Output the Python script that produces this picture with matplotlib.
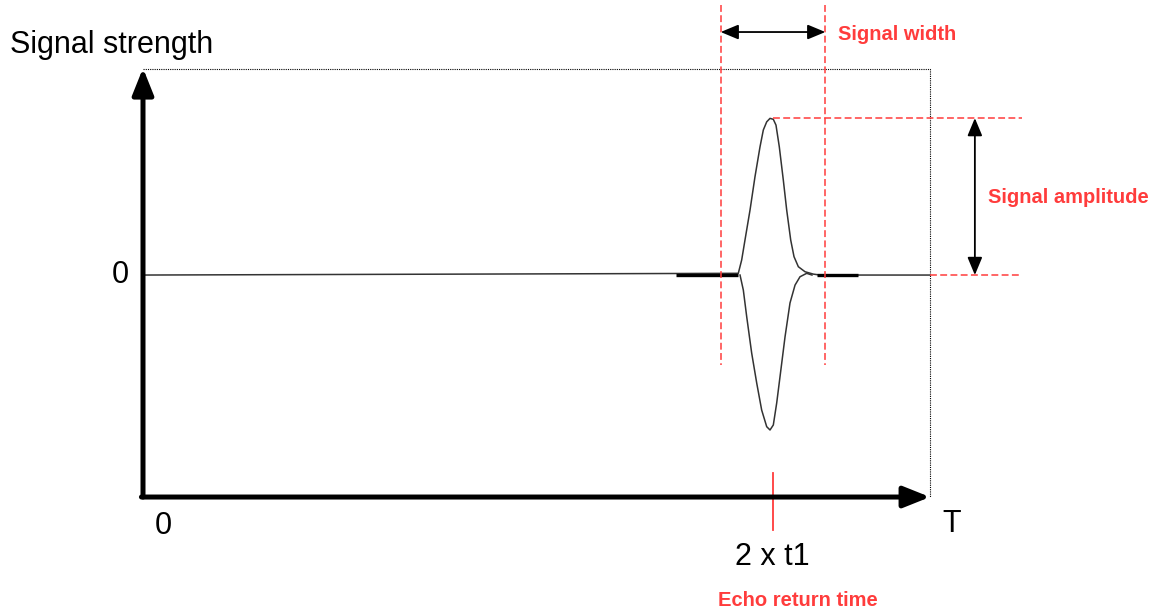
import matplotlib.pyplot as plt

plt.rcParams['font.family'] = ['Liberation Sans', 'DejaVu Sans']

# 时间轴 (T = 100) 和信号强度 (幅值 = 1)
t_end = 100
echo_time = 80
width_left, width_right = 73.4, 86.7
amplitude = 1.0

# 回波脉冲上半部分
upper_t = [0, 75.64, 76.07, 76.49, 77.13, 77.76, 78.40, 78.82, 79.25, 79.67, 80.09,
           80.43, 80.85, 81.36, 81.79, 82.30, 82.72, 83.27, 84.12, 85.17, 86.02, 100]
upper_s = [0, 0.011, 0.096, 0.223, 0.414, 0.626, 0.817, 0.924, 0.976, 0.998, 0.992,
           0.955, 0.817, 0.605, 0.414, 0.223, 0.117, 0.053, 0.021, 0.006, 0, 0]

# 回波脉冲下半部分
lower_t = [75.86, 76.28, 76.71, 77.34, 77.98, 78.61, 79.25, 79.67, 80.09, 80.52,
           80.94, 81.58, 82.21, 82.85, 83.48, 84.33, 85.0]
lower_s = [0, -0.096, -0.266, -0.497, -0.688, -0.860, -0.966, -0.987, -0.955, -0.815,
           -0.648, -0.393, -0.178, -0.064, -0.011, 0.011, 0]

# 基线上较粗的噪声段
noise_segments = [(67.7, 75.6), (85.6, 90.9)]

# 坐标轴范围
y_bottom, y_top = -1.414, 1.318

red = '#ff3c3c'

fig = plt.figure(figsize=(11.61, 6.11), dpi=100)
ax = fig.add_axes([0, 0, 1, 1])
ax.set_xlim(-18.17, 129.35)
ax.set_ylim(-2.140, 1.752)
ax.axis('off')

# 虚线框
ax.plot([0, t_end, t_end], [y_top - 0.005, y_top - 0.005, y_bottom], color='black',
        lw=0.8, linestyle=(0, (1, 1)))

# 信号
ax.plot(upper_t, upper_s, color='#333333', lw=1.1)
ax.plot(lower_t, lower_s, color='#333333', lw=1.1)
for a, b in noise_segments:
    ax.plot([a, b], [0, 0], color='black', lw=2.4, solid_capstyle='butt')

# 坐标轴箭头
axis_arrow = dict(arrowstyle='-|>,head_length=0.8,head_width=0.32', lw=3.6,
                  color='black', mutation_scale=20, shrinkA=0, shrinkB=0)
ax.annotate('', xy=(0, y_top), xytext=(0, y_bottom), arrowprops=axis_arrow)
ax.annotate('', xy=(t_end, y_bottom), xytext=(-0.2, y_bottom), arrowprops=axis_arrow)

# 红色虚线
dash = (0, (4.5, 2.2))
for x in [width_left, width_right]:
    ax.plot([x, x], [1.72, -0.573], color=red, lw=1.1, linestyle=dash)
ax.plot([echo_time, 111.7], [amplitude, amplitude], color=red, lw=1.1, linestyle=dash)
ax.plot([t_end, 111.7], [0, 0], color=red, lw=1.1, linestyle=dash)

# 回波时间刻度
ax.plot([echo_time, echo_time], [-1.261, -1.624], color=red, lw=1.3)

# 宽度和幅值箭头
small_arrow = dict(arrowstyle='<|-|>,head_length=0.6,head_width=0.25', lw=1.3,
                   color='black', mutation_scale=18, shrinkA=0, shrinkB=0)
ax.annotate('', xy=(width_left, 1.548), xytext=(width_right, 1.548), arrowprops=small_arrow)
ax.annotate('', xy=(105.7, amplitude), xytext=(105.7, 0), arrowprops=small_arrow)

# 文字
ax.text(-16.9, 1.465, 'Signal strength', fontsize=22, ha='left', va='center')
ax.text(-2.92, 0, '0', fontsize=22, ha='center', va='center')
ax.text(2.54, -1.599, '0', fontsize=22, ha='center', va='center')
ax.text(102.8, -1.586, 'T', fontsize=22, ha='center', va='center')
ax.text(echo_time, -1.796, '2 x t1', fontsize=22, ha='center', va='center')

ax.text(83.2, -2.07, 'Echo return time', fontsize=14.5, fontweight='bold', color=red,
        ha='center', va='center')
ax.text(88.3, 1.535, 'Signal width', fontsize=14.5, fontweight='bold', color=red,
        ha='left', va='center')
ax.text(107.4, 0.494, 'Signal amplitude', fontsize=14.5, fontweight='bold', color=red,
        ha='left', va='center')

fig.savefig('out.png', dpi=100)
